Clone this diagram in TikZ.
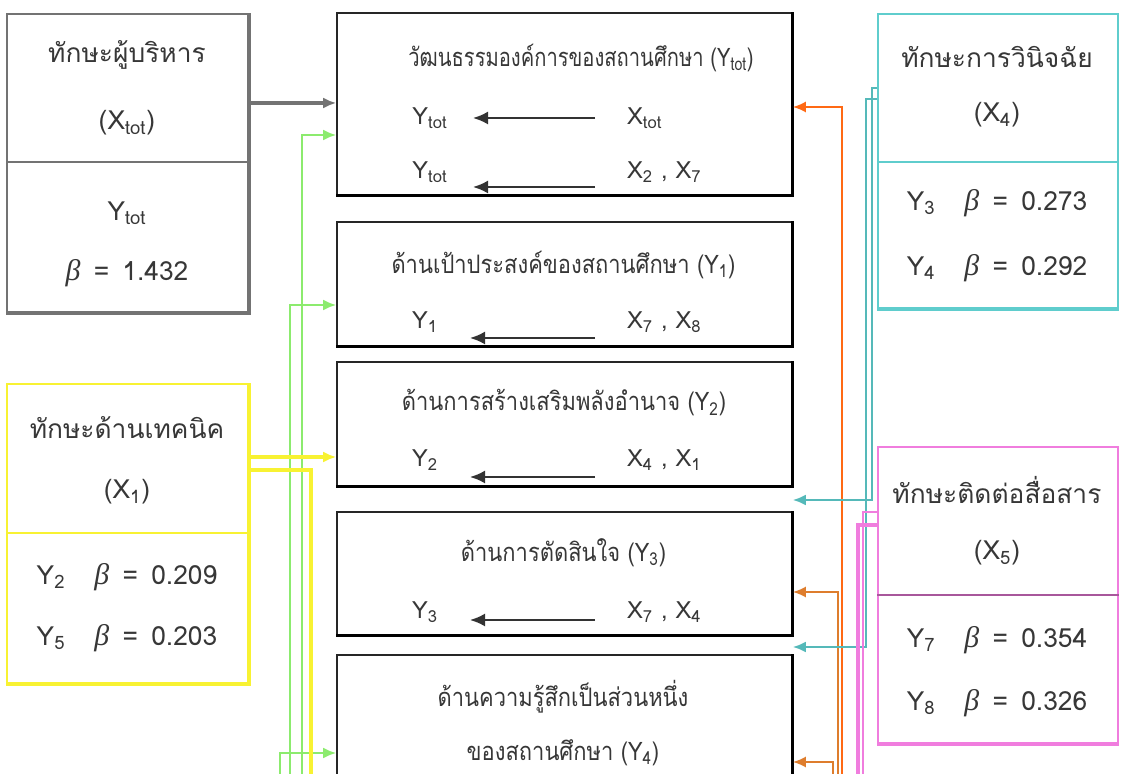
\documentclass[tikz,border=0pt]{standalone}
\usepackage{fontspec}
\setmainfont[Script=Thai]{Loma}
\newfontfamily\greekfont{Liberation Serif}
\usetikzlibrary{arrows.meta}

\definecolor{txtgray}{RGB}{55,55,55}
\definecolor{mgrgray}{RGB}{115,115,115}
\definecolor{techyellow}{RGB}{248,242,50}
\definecolor{diagcyan}{RGB}{95,205,205}
\definecolor{commpink}{RGB}{240,125,222}
\definecolor{linkgreen}{RGB}{140,235,110}
\definecolor{linkorange}{RGB}{255,105,20}
\definecolor{linkbrown}{RGB}{222,125,45}

\newcommand{\betasym}{{\greekfont\itshape\fontsize{17}{18}\selectfont β}}

\tikzset{
  txt/.style={text=txtgray, font=\fontsize{15}{18}\selectfont, inner sep=1pt},
  headtxt/.style={txt, font=\fontsize{14.5}{17}\selectfont, xscale=0.86, transform shape},
  rowtxt/.style={txt, font=\fontsize{13.5}{16}\selectfont},
  panel/.style={draw, line width=0.9pt, minimum width=4.82cm, inner sep=0pt},
  aspect/.style={draw=black!85, line width=0.9pt, minimum width=9.1cm, inner sep=0pt},
  tip/.style={-{Latex[length=2.6mm,width=2.2mm]}},
  inarrow/.style={-{Latex[length=3mm,width=2.6mm]}, black!80, line width=1.2pt}
}

\begin{document}
\begin{tikzpicture}
\useasboundingbox (0,0) rectangle (22.42,-15.48);

\node[panel, draw=mgrgray, minimum height=5.96cm] (mgrbox) at (2.55,-3.26) {};
\draw[mgrgray, line width=0.9pt] (mgrbox.west |- 0,-3.24) -- (mgrbox.east |- 0,-3.24);
\draw[mgrgray, line width=2.2pt] (mgrbox.north east) -- (mgrbox.south east) -- (mgrbox.south west);
\node[txt] (mgrname) at (2.54,-1.10) {ทักษะผู้บริหาร};
\node[txt] (mgrx) at (2.54,-2.46) {(X\textsubscript{tot})};
\node[txt] (mgry) at (2.54,-4.26) {Y\textsubscript{tot}};
\node[txt] (mgrb) at (2.54,-5.46) {\betasym\ \,=\, 1.432};

\node[panel, draw=techyellow, minimum height=5.98cm] (techbox) at (2.55,-10.67) {};
\draw[techyellow, line width=1.2pt] (techbox.west |- 0,-10.66) -- (techbox.east |- 0,-10.66);
\draw[techyellow, line width=2.2pt] (techbox.north east) -- (techbox.south east) -- (techbox.south west);
\node[txt] (techname) at (2.54,-8.56) {ทักษะด้านเทคนิค};
\node[txt] (techx) at (2.54,-9.84) {(X\textsubscript{1})};
\node[txt] (techb1) at (2.54,-11.54) {Y\textsubscript{2}\hspace{1.1em}\betasym\ \,=\, 0.209};
\node[txt] (techb2) at (2.54,-12.76) {Y\textsubscript{5}\hspace{1.1em}\betasym\ \,=\, 0.203};

\node[panel, draw=diagcyan, minimum width=4.8cm, minimum height=5.88cm] (diagbox) at (19.96,-3.22) {};
\draw[diagcyan, line width=0.9pt] (diagbox.west |- 0,-3.24) -- (diagbox.east |- 0,-3.24);
\draw[diagcyan, line width=2pt] (diagbox.south west) -- (diagbox.south east);
\node[txt] (diagname) at (19.94,-1.14) {ทักษะการวินิจฉัย};
\node[txt] (diagx) at (19.94,-2.30) {(X\textsubscript{4})};
\node[txt] (diagb1) at (19.94,-4.06) {Y\textsubscript{3}\hspace{1.1em}\betasym\ \,=\, 0.273};
\node[txt] (diagb2) at (19.94,-5.36) {Y\textsubscript{4}\hspace{1.1em}\betasym\ \,=\, 0.292};

\node[panel, draw=commpink, minimum width=4.8cm, minimum height=5.92cm] (commbox) at (19.96,-11.90) {};
\draw[commpink!70!black, line width=0.9pt] (commbox.west |- 0,-11.90) -- (commbox.east |- 0,-11.90);
\draw[commpink, line width=2.2pt] (commbox.south west) -- (commbox.south east);
\node[txt] (commname) at (19.94,-9.80) {ทักษะติดต่อสื่อสาร};
\node[txt] (commx) at (19.94,-11.06) {(X\textsubscript{5})};
\node[txt] (commb1) at (19.94,-12.80) {Y\textsubscript{7}\hspace{1.1em}\betasym\ \,=\, 0.354};
\node[txt] (commb2) at (19.94,-14.06) {Y\textsubscript{8}\hspace{1.1em}\betasym\ \,=\, 0.326};

\node[aspect, minimum height=3.64cm] (boxa) at (11.29,-2.08) {};
\node[aspect, minimum height=2.48cm] (boxb) at (11.29,-5.68) {};
\node[aspect, minimum height=2.48cm] (boxc) at (11.29,-8.48) {};
\node[aspect, minimum height=2.46cm] (boxd) at (11.29,-11.47) {};
\node[aspect, minimum height=2.90cm] (boxe) at (11.29,-14.55) {};
\draw[black, line width=1.8pt] (boxa.north east) -- (boxa.south east) -- (boxa.south west);
\draw[black, line width=1.8pt] (boxb.north east) -- (boxb.south east) -- (boxb.south west);
\draw[black, line width=1.8pt] (boxc.north east) -- (boxc.south east) -- (boxc.south west);
\draw[black, line width=1.5pt] (boxd.north east) -- (boxd.south east) -- (boxd.south west);
\draw[black, line width=1.5pt] (boxe.north east) -- (boxe.south east);

\node[headtxt, xscale=0.92] (titlea) at (11.62,-1.16) {วัฒนธรรมองค์การของสถานศึกษา (Y\textsubscript{tot})};
\node[rowtxt] (ya1) at (8.60,-2.36) {Y\textsubscript{tot}};
\node[rowtxt, anchor=west] (xa1) at (12.50,-2.36) {X\textsubscript{tot}};
\node[rowtxt] (ya2) at (8.60,-3.44) {Y\textsubscript{tot}};
\node[rowtxt, anchor=west] (xa2) at (12.50,-3.44) {X\textsubscript{2} , X\textsubscript{7}};
\coordinate (sa1) at (11.90,-2.36);
\coordinate (ea1) at (9.46,-2.36);
\coordinate (sa2) at (11.90,-3.74);
\coordinate (ea2) at (9.46,-3.74);
\draw[inarrow] (sa1) -- (ea1);
\draw[inarrow] (sa2) -- (ea2);

\node[headtxt] (titleb) at (11.27,-5.30) {ด้านเป้าประสงค์ของสถานศึกษา (Y\textsubscript{1})};
\node[rowtxt] (yb) at (8.50,-6.44) {Y\textsubscript{1}};
\node[rowtxt, anchor=west] (xb) at (12.50,-6.44) {X\textsubscript{7} , X\textsubscript{8}};
\coordinate (sb) at (11.90,-6.76);
\coordinate (eb) at (9.40,-6.76);
\draw[inarrow] (sb) -- (eb);

\node[headtxt] (titlec) at (11.28,-8.06) {ด้านการสร้างเสริมพลังอำนาจ (Y\textsubscript{2})};
\node[rowtxt] (yc) at (8.50,-9.20) {Y\textsubscript{2}};
\node[rowtxt, anchor=west] (xc) at (12.50,-9.20) {X\textsubscript{4} , X\textsubscript{1}};
\coordinate (sc) at (11.90,-9.54);
\coordinate (ec) at (9.40,-9.54);
\draw[inarrow] (sc) -- (ec);

\node[headtxt] (titled) at (11.27,-11.06) {ด้านการตัดสินใจ (Y\textsubscript{3})};
\node[rowtxt] (yd) at (8.50,-12.24) {Y\textsubscript{3}};
\node[rowtxt, anchor=west] (xd) at (12.50,-12.24) {X\textsubscript{7} , X\textsubscript{4}};
\coordinate (sd) at (11.90,-12.40);
\coordinate (ed) at (9.40,-12.40);
\draw[inarrow] (sd) -- (ed);

\node[headtxt] (titlee1) at (11.26,-13.94) {ด้านความรู้สึกเป็นส่วนหนึ่ง};
\node[headtxt] (titlee2) at (11.26,-15.06) {ของสถานศึกษา (Y\textsubscript{4})};

\draw[tip, mgrgray, line width=2pt] (mgrbox.east |- 0,-2.06) -- (boxa.west |- 0,-2.06);

\coordinate (green1) at (6.04,-16);
\coordinate (green2) at (5.80,-16);
\coordinate (green3) at (5.60,-16);
\draw[tip, linkgreen, line width=1.3pt] (green1) |- (boxa.west |- 0,-2.70);
\draw[tip, linkgreen, line width=1.3pt] (green2) |- (boxb.west |- 0,-6.10);
\draw[tip, linkgreen, line width=1.3pt] (green3) |- (boxe.west |- 0,-15.06);

\draw[tip, techyellow, line width=1.8pt] (techbox.east |- 0,-9.14) -- (boxc.west |- 0,-9.14);
\coordinate (yellowend) at (6.22,-16);
\draw[techyellow, line width=1.8pt] (techbox.east |- 0,-9.40) -| (yellowend);

\coordinate (orange1) at (16.84,-16);
\coordinate (orange2) at (16.76,-16);
\coordinate (orange3) at (16.66,-16);
\draw[tip, linkorange, line width=1.2pt] (orange1) |- (boxa.east |- 0,-2.14);
\draw[tip, linkbrown, line width=1.2pt] (orange2) |- (boxd.east |- 0,-11.84);
\draw[tip, linkbrown, line width=1.2pt] (orange3) |- (boxe.east |- 0,-15.24);

\draw[tip, diagcyan!90!black, line width=1.4pt] (diagbox.west |- 0,-1.76) -| (17.44,-10.00) -- (boxc.east |- 0,-10.00);
\draw[tip, diagcyan!90!black, line width=1.4pt] (diagbox.west |- 0,-1.98) -| (17.32,-12.94) -- (boxd.east |- 0,-12.94);

\coordinate (pink1) at (17.26,-16);
\coordinate (pink2) at (17.16,-16);
\draw[commpink, line width=1.2pt] (commbox.west |- 0,-10.24) -| (pink1);
\draw[commpink, line width=2.4pt] (commbox.west |- 0,-10.50) -| (pink2);
\end{tikzpicture}
\end{document}
